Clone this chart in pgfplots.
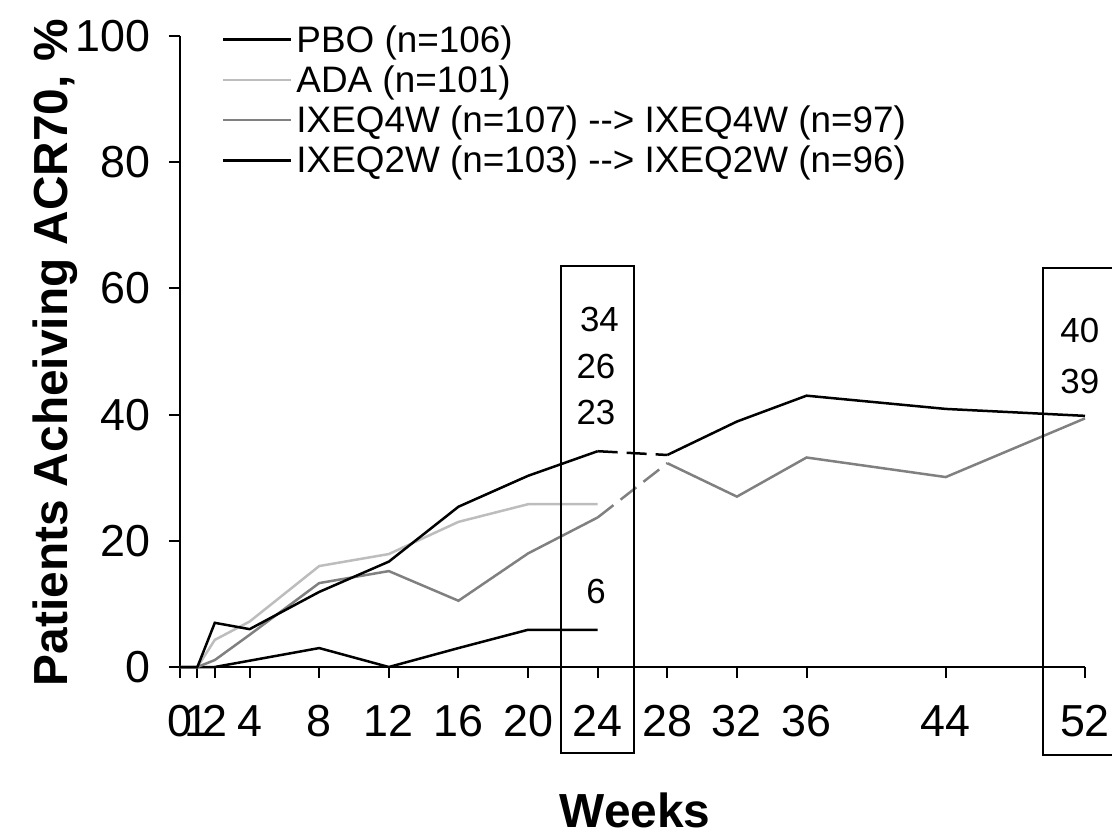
\documentclass[border=0pt]{standalone}
\usepackage{pgfplots}
\pgfplotsset{compat=1.18}
\usepackage{fontspec}
\setmainfont{Liberation Sans}
\definecolor{adagray}{gray}{0.74}
\definecolor{ixgray}{gray}{0.5}

\begin{document}
\begin{tikzpicture}
\begin{axis}[
  at={(0,0)}, anchor=south west,
  scale only axis, width=905bp, height=631bp,
  xmin=0, xmax=52, ymin=0, ymax=100,
  axis x line*=bottom, axis y line*=left,
  axis line style={line width=2bp, black},
  xtick={0,1,2,4,8,12,16,20,24,28,32,36,44,52},
  ytick={0,20,40,60,80,100},
  tick align=outside,
  major tick length=11bp,
  tick style={line width=2bp, black},
  /pgf/number format/assume math mode=true,
  ticklabel style={font=\fontsize{45}{50}\selectfont},
  xticklabel style={anchor=north, yshift=-24bp},
  yticklabel style={anchor=east, xshift=-15bp},
  every axis x label/.style={at={(axis description cs:0.503,0)}, anchor=center, yshift=-143bp, font=\bfseries\fontsize{48}{52}\selectfont},
  every axis y label/.style={at={(axis description cs:-0.1381,0.498)}, rotate=90, anchor=center, font=\bfseries\fontsize{48}{52}\selectfont},
  xlabel={Weeks},
  ylabel={Patients Acheiving ACR70, \%},
  legend style={at={(axis description cs:0.0464,1.018)}, anchor=north west, draw=none, fill=none, inner sep=0pt, outer sep=0pt, font=\fontsize{37}{40}\selectfont, row sep=10bp, nodes={inner xsep=4bp, inner ysep=1bp}},
  legend cell align=left,
  legend image code/.code={\draw[#1] (0bp,0bp) -- (68bp,0bp);},
  clip=false,
]
% PBO
\addplot[black, line width=2.5bp] coordinates {(0,0) (1,0) (2,0) (4,1) (8,3) (12,0) (16,3) (20,5.9) (24,5.9)};
\addlegendentry{PBO (n=106)}
% ADA
\addplot[adagray, line width=2.5bp] coordinates {(0,0) (1,0) (2,4.3) (4,7.2) (8,16.0) (12,17.9) (16,23.0) (20,25.8) (24,25.8)};
\addlegendentry{ADA (n=101)}
% IXEQ4W
\addplot[ixgray, line width=2.5bp] coordinates {(0,0) (1,0) (2,1.1) (4,5.1) (8,13.3) (12,15.2) (16,10.5) (20,18.0) (24,23.7)};
\addlegendentry{IXEQ4W (n=107) -\kern0pt-> IXEQ4W (n=97)}
% IXEQ2W
\addplot[black, line width=2.5bp] coordinates {(0,0) (1,0) (2,7.0) (4,6.0) (8,11.9) (12,16.7) (16,25.4) (20,30.3) (24,34.2)};
\addlegendentry{IXEQ2W (n=103) -\kern0pt-> IXEQ2W (n=96)}
\addplot[ixgray, line width=2.5bp, dash pattern=on 20bp off 9bp, forget plot] coordinates {(24,23.7) (28,32.3)};
\addplot[ixgray, line width=2.5bp, forget plot] coordinates {(28,32.3) (32,27.0) (36,33.2) (44,30.1) (52,39.4)};
\addplot[black, line width=2.5bp, dash pattern=on 20bp off 9bp, forget plot] coordinates {(24,34.2) (28,33.6)};
\addplot[black, line width=2.5bp, forget plot] coordinates {(28,33.6) (32,38.9) (36,43.0) (44,40.9) (52,39.8)};
% boxes
\draw[line width=2bp] (axis cs:21.9,63.5) rectangle (axis cs:26.1,-13.6);
\draw[line width=2bp] (axis cs:55,63.2) -- (axis cs:49.6,63.2) -- (axis cs:49.6,-14.0) -- (axis cs:55,-14.0);
\begin{scope}[every node/.style={font=\fontsize{35}{40}\selectfont}]
\node at (axis cs:24.1,55.0) {34};
\node at (axis cs:23.9,47.7) {26};
\node at (axis cs:23.9,40.3) {23};
\node at (axis cs:23.9,11.9) {6};
\node at (axis cs:51.7,53.4) {40};
\node at (axis cs:51.7,45.3) {39};
\end{scope}
\end{axis}
\pgfresetboundingbox
\useasboundingbox (-180bp,-172bp) rectangle (932bp,667bp);
\end{tikzpicture}
\end{document}
